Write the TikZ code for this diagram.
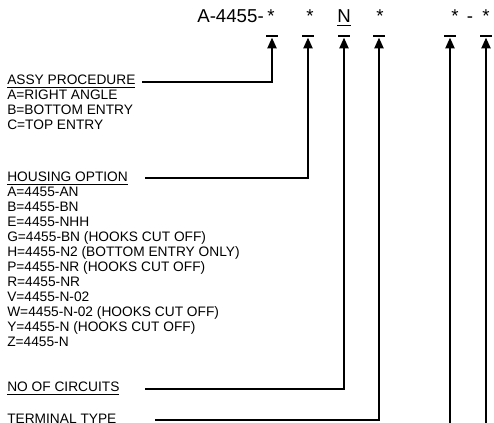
\documentclass[tikz,border=0pt]{standalone}
\usepackage{fontspec}
\setmainfont{Liberation Sans}
\usetikzlibrary{arrows.meta}

\tikzset{
	optxt/.style={anchor=base west, inner sep=0pt, font=\fontsize{10.3}{12}\selectfont},
	codetxt/.style={anchor=base, inner sep=0pt, font=\fontsize{14}{16}\selectfont},
	stopbar/.style={fill=black, inner sep=0pt, minimum width=9.5pt, minimum height=2.2pt},
	feed/.style={line width=0.9pt, -{Triangle[length=8pt,width=7pt]}},
}

\begin{document}
\begin{tikzpicture}[x=0.75pt,y=0.75pt,yscale=-1,xscale=1]
	\useasboundingbox (0,0) rectangle (494,423);

	% Part number
	\node[codetxt, anchor=base east] (pre) at (264,23) {A-4455-};
	\node[codetxt] (s1) at (271,23) {*};
	\node[codetxt] (s2) at (310,23) {*};
	\node[codetxt] (s3) at (344,23) {\underline{N}};
	\node[codetxt] (s4) at (380,23) {*};
	\node[codetxt] (s5) at (455,23) {*};
	\node[codetxt] (dash) at (470,23) {-};
	\node[codetxt] (s6) at (486,23) {*};

	% Stop bars
	\node[stopbar] (b1) at (272,36) {};
	\node[stopbar] (b2) at (308,36) {};
	\node[stopbar] (b3) at (344,36) {};
	\node[stopbar] (b4) at (379,36) {};
	\node[stopbar] (b5) at (450,36) {};
	\node[stopbar] (b6) at (486,36) {};

	% Text Node
	\node[optxt] (assy) at (7,85) {\underline{ASSY PROCEDURE}};
	\node[optxt] (assyA) at (7,100) {A=RIGHT ANGLE};
	\node[optxt] (assyB) at (7,115) {B=BOTTOM ENTRY};
	\node[optxt] (assyC) at (7,130) {C=TOP ENTRY};

	% Text Node
	\node[optxt] (hsg) at (7,182) {\underline{HOUSING OPTION}};
	\node[optxt] (hsgA) at (7,197) {A=4455-AN};
	\node[optxt] (hsgB) at (7,212) {B=4455-BN};
	\node[optxt] (hsgE) at (7,227) {E=4455-NHH};
	\node[optxt] (hsgG) at (7,242) {G=4455-BN (HOOKS CUT OFF)};
	\node[optxt] (hsgH) at (7,257) {H=4455-N2 (BOTTOM ENTRY ONLY)};
	\node[optxt] (hsgP) at (7,272) {P=4455-NR (HOOKS CUT OFF)};
	\node[optxt] (hsgR) at (7,287) {R=4455-NR};
	\node[optxt] (hsgV) at (7,302) {V=4455-N-02};
	\node[optxt] (hsgW) at (7,317) {W=4455-N-02 (HOOKS CUT OFF)};
	\node[optxt] (hsgY) at (7,332) {Y=4455-N (HOOKS CUT OFF)};
	\node[optxt] (hsgZ) at (7,347) {Z=4455-N};

	% Text Node
	\node[optxt] (circ) at (7,392) {\underline{NO OF CIRCUITS}};
	\node[optxt] (term) at (7,424) {\underline{TERMINAL TYPE}};

	% Line starts
	\coordinate (c1) at (142,82);
	\coordinate (c2) at (145,178);
	\coordinate (c3) at (145,389);
	\coordinate (c4) at (155,420);
	\coordinate (c5) at (450,423);
	\coordinate (c6) at (486,423);

	%Straight Lines
	\draw[feed] (c1) -| (b1.south);
	\draw[feed] (c2) -| (b2.south);
	\draw[feed] (c3) -| (b3.south);
	\draw[feed] (c4) -| (b4.south);
	\draw[feed] (c5) -- (b5.south);
	\draw[feed] (c6) -- (b6.south);
\end{tikzpicture}
\end{document}
